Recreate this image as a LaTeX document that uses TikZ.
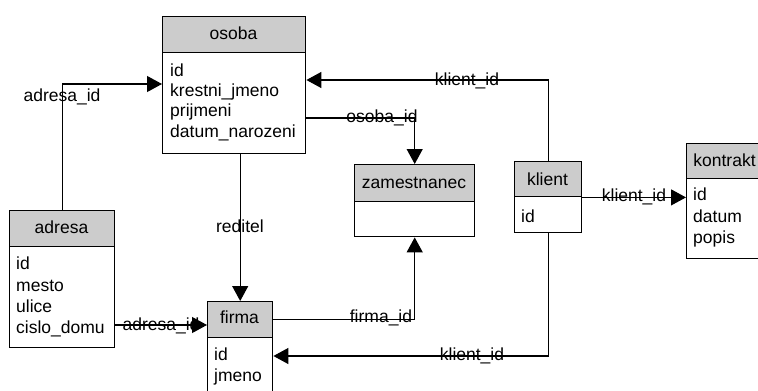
\documentclass[tikz,border=0pt]{standalone}
\usepackage{fontspec}
\setmainfont{Liberation Sans}
\usetikzlibrary{arrows.meta}
\begin{document}
\begin{tikzpicture}[x=1pt,y=-1pt,
  hdr/.style={draw=black, line width=1.4pt, fill={rgb,255:red,204;green,204;blue,204}, anchor=north west, inner sep=0pt},
  bodybox/.style={draw=black, line width=1.4pt, fill=white, anchor=north west, inner sep=0pt},
  ttl/.style={anchor=base, inner sep=0pt, font=\fontsize{17.5}{20}\selectfont},
  attr/.style={anchor=base west, inner sep=0pt, font=\fontsize{17.5}{20}\selectfont},
  lbl/.style={anchor=base, inner sep=0pt, font=\fontsize{17.5}{20}\selectfont},
  conn/.style={draw=black, line width=1.2pt},
  arr/.style={conn, -{Triangle[length=15pt,width=16pt]}}]
\clip (0,0) rectangle (758,391);
\fill[white] (0,0) rectangle (758,391);

% osoba
\node[hdr, minimum width=143pt, minimum height=36pt] (osobaH) at (162,16) {};
\node[bodybox, minimum width=143pt, minimum height=101pt] (osobaB) at (162,52) {};
\node[ttl] (osobaT) at (233.5,39) {osoba};
\node[attr] (osobaA1) at (170,76) {id};
\node[attr] (osobaA2) at (170,96) {krestni\_jmeno};
\node[attr] (osobaA3) at (170,116) {prijmeni};
\node[attr] (osobaA4) at (170,137) {datum\_narozeni};

% adresa
\node[hdr, minimum width=105pt, minimum height=36pt] (adresaH) at (9,210) {};
\node[bodybox, minimum width=105pt, minimum height=101pt] (adresaB) at (9,246) {};
\node[ttl] (adresaT) at (61.5,233) {adresa};
\node[attr] (adresaA1) at (16,269) {id};
\node[attr] (adresaA2) at (16,291) {mesto};
\node[attr] (adresaA3) at (16,312) {ulice};
\node[attr] (adresaA4) at (16,333) {cislo\_domu};

% firma
\node[hdr, minimum width=65pt, minimum height=36pt] (firmaH) at (207,301) {};
\node[bodybox, minimum width=65pt, minimum height=64pt] (firmaB) at (207,337) {};
\node[ttl] (firmaT) at (239.5,323) {firma};
\node[attr] (firmaA1) at (214,360) {id};
\node[attr] (firmaA2) at (214,381) {jmeno};

% zamestnanec
\node[hdr, minimum width=120pt, minimum height=37pt] (zamH) at (354,164) {};
\node[bodybox, minimum width=120pt, minimum height=35pt] (zamB) at (354,201) {};
\node[ttl] (zamT) at (414,188) {zamestnanec};

% klient
\node[hdr, minimum width=67pt, minimum height=35pt] (klientH) at (514,161) {};
\node[bodybox, minimum width=67pt, minimum height=36pt] (klientB) at (514,196) {};
\node[ttl] (klientT) at (547.5,185) {klient};
\node[attr] (klientA1) at (521,222) {id};

% kontrakt
\node[hdr, minimum width=77pt, minimum height=35pt] (kontraktH) at (686,143) {};
\node[bodybox, minimum width=77pt, minimum height=80pt] (kontraktB) at (686,178) {};
\node[ttl] (kontraktT) at (724.5,166) {kontrakt};
\node[attr] (kontraktA1) at (693,200) {id};
\node[attr] (kontraktA2) at (693,222) {datum};
\node[attr] (kontraktA3) at (693,243) {popis};

% connectors
\draw[arr] (adresaH.north) |- ([yshift=-32pt]osobaB.north west);
\draw[arr] (klientH.north) |- ([yshift=-28pt]osobaB.north east);
\draw[arr] ([yshift=-66pt]osobaB.north east) -| (zamH.north);
\draw[arr] (osobaB.south -| firmaH.north) -- (firmaH.north);
\draw[arr] ([yshift=-79pt]adresaB.north east) -- ([yshift=-79pt]adresaB.north east -| firmaH.west);
\draw[arr] (firmaH.east) -| (zamB.south);
\draw[arr] (klientH.south east) -- (klientH.south east -| kontraktB.west);
\draw[arr] (klientB.south) |- ([yshift=-19pt]firmaB.north east);

% connector labels
\node[lbl] (l1) at (62,101) {adresa\_id};
\node[lbl] (l2) at (467,85) {klient\_id};
\node[lbl] (l3) at (382,122) {osoba\_id};
\node[lbl] (l4) at (240,232) {reditel};
\node[lbl] (l5) at (161,330) {adresa\_id};
\node[lbl] (l6) at (381,322) {firma\_id};
\node[lbl] (l7) at (634,201) {klient\_id};
\node[lbl] (l8) at (472,360) {klient\_id};
\end{tikzpicture}
\end{document}
